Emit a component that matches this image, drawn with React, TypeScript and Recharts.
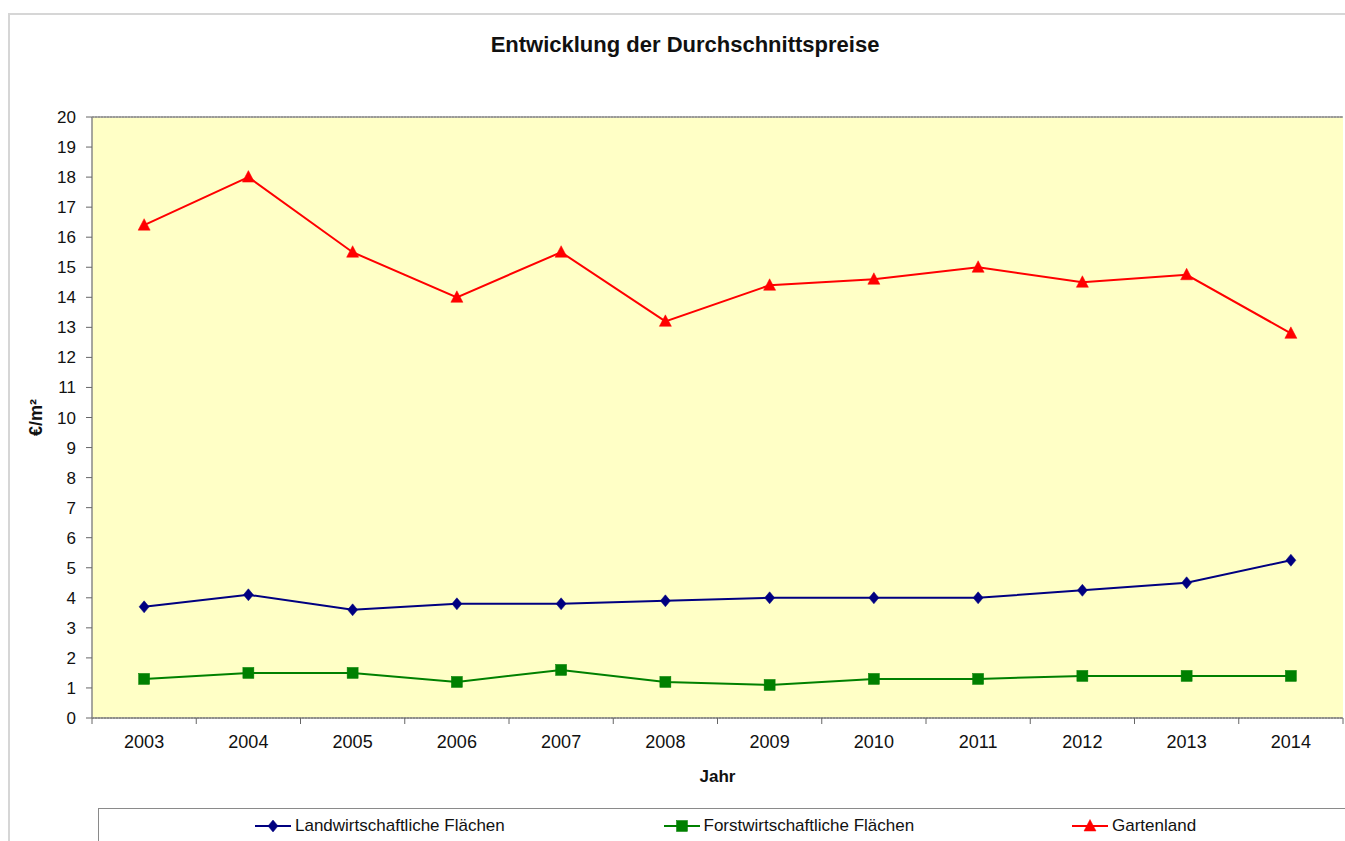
import React from 'react';
import { LineChart, Line, XAxis, YAxis, CartesianGrid, Legend, ReferenceLine } from 'recharts';

const years = [2003, 2004, 2005, 2006, 2007, 2008, 2009, 2010, 2011, 2012, 2013, 2014];
const landwirtschaft = [3.7, 4.1, 3.6, 3.8, 3.8, 3.9, 4.0, 4.0, 4.0, 4.25, 4.5, 5.25];
const forstwirtschaft = [1.3, 1.5, 1.5, 1.2, 1.6, 1.2, 1.1, 1.3, 1.3, 1.4, 1.4, 1.4];
const gartenland = [16.4, 18.0, 15.5, 14.0, 15.5, 13.2, 14.4, 14.6, 15.0, 14.5, 14.75, 12.8];
const yTicks = [0, 1, 2, 3, 4, 5, 6, 7, 8, 9, 10, 11, 12, 13, 14, 15, 16, 17, 18, 19, 20];

const seriesNames = ['Landwirtschaftliche Flächen', 'Forstwirtschaftliche Flächen', 'Gartenland'];
const seriesColors = ['#000080', '#008000', '#FF0000'];
const seriesShapes = ['diamond', 'square', 'triangle'];

const data = years.map((y, i) => ({
  year: y,
  landw: landwirtschaft[i],
  forst: forstwirtschaft[i],
  garten: gartenland[i],
}));

const boundaryTicks = [...years.map((y) => y - 0.5), years[years.length - 1] + 0.5];

const FONT = '"Liberation Sans", Arial, sans-serif';

function Marker({ shape, cx, cy, color }: { shape: string; cx: number; cy: number; color: string }) {
  if (cx == null || cy == null) return null;
  if (shape === 'diamond') {
    return <path d={`M${cx},${cy - 6} L${cx + 5},${cy} L${cx},${cy + 6} L${cx - 5},${cy} Z`} fill={color} stroke={color} strokeWidth={0.5} />;
  }
  if (shape === 'square') {
    return <rect x={cx - 5.5} y={cy - 5.5} width={11} height={11} fill={color} stroke={color} strokeWidth={0.5} />;
  }
  return <path d={`M${cx},${cy - 6.5} L${cx + 6},${cy + 5} L${cx - 6},${cy + 5} Z`} fill={color} stroke={color} strokeWidth={0.5} />;
}

const makeDot = (shape: string, color: string) => (props: any) => (
  <Marker key={`${shape}-${props.index}`} shape={shape} cx={props.cx} cy={props.cy} color={color} />
);

const EmptyTick = () => <g />;

const LegendContent = () => (
  <div style={{ position: 'relative', width: '100%', height: 40, fontFamily: FONT, fontSize: 17, color: '#111' }}>
    {seriesNames.map((name, i) => (
      <div
        key={name}
        style={{ position: 'absolute', left: 157 + i * 408.5, top: 8, display: 'flex', alignItems: 'center', whiteSpace: 'nowrap' }}
      >
        <svg width={36} height={16} style={{ marginRight: 4 }}>
          <line x1={0} y1={8} x2={36} y2={8} stroke={seriesColors[i]} strokeWidth={2} />
          <Marker shape={seriesShapes[i]} cx={18} cy={8} color={seriesColors[i]} />
        </svg>
        <span>{name}</span>
      </div>
    ))}
  </div>
);

const YLabel = (props: any) => {
  const vb = props.viewBox || {};
  const x = vb.x + 10;
  const y = vb.y + vb.height / 2;
  return (
    <text x={x} y={y} transform={`rotate(-90, ${x}, ${y})`} textAnchor="middle" dominantBaseline="central"
      fontFamily={FONT} fontSize={18} fontWeight="bold" fill="#111">
      €/m²
    </text>
  );
};

export default function App() {
  return (
    <div style={{ position: 'absolute', left: 0, top: 0, width: 1345, height: 841, background: '#fff', overflow: 'hidden' }}>
      <div style={{ position: 'absolute', left: 8, top: 13, width: 1400, height: 900, border: '2px solid #d6d6d6', boxSizing: 'border-box' }} />
      <div style={{ position: 'absolute', left: 98, top: 808, width: 1300, height: 100, border: '1.5px solid #8a8a8a', boxSizing: 'border-box' }} />
      <div style={{ position: 'absolute', left: 0, top: 32, width: 1370, textAlign: 'center', fontFamily: FONT, fontSize: 22, fontWeight: 'bold', color: '#111' }}>
        Entwicklung der Durchschnittspreise
      </div>
      <div style={{ position: 'absolute', left: 0, top: 0 }}>
        <LineChart width={1345} height={841} data={data} margin={{ top: 117, right: 2, bottom: 53, left: 26 }}>
          <CartesianGrid vertical={false} horizontal stroke="#444" strokeDasharray="2 1" fill="#FFFFC6" fillOpacity={1} />
          <XAxis
            xAxisId="b"
            type="number"
            dataKey="year"
            domain={[boundaryTicks[0], boundaryTicks[boundaryTicks.length - 1]]}
            ticks={years}
            interval={0}
            tickLine={false}
            axisLine={false}
            tickSize={6}
            tickMargin={10}
            tick={{ fontFamily: FONT, fontSize: 18, fill: '#111' }}
            height={69}
            allowDataOverflow
            label={{ value: 'Jahr', position: 'insideBottom', offset: 6, fontFamily: FONT, fontSize: 17, fontWeight: 'bold', fill: '#111' }}
          />
          <XAxis
            xAxisId="a"
            type="number"
            dataKey="year"
            domain={[boundaryTicks[0], boundaryTicks[boundaryTicks.length - 1]]}
            ticks={boundaryTicks}
            interval={0}
            tick={<EmptyTick />}
            tickSize={6}
            tickLine={{ stroke: '#666' }}
            axisLine={{ stroke: '#888', strokeWidth: 1.5 }}
            height={1}
            allowDataOverflow
          />
          <YAxis
            yAxisId="left"
            domain={[0, 20]}
            ticks={yTicks}
            interval={0}
            width={66}
            tickSize={6}
            tickMargin={10}
            tickLine={{ stroke: '#666' }}
            axisLine={{ stroke: '#888', strokeWidth: 1.5 }}
            tick={{ fontFamily: FONT, fontSize: 17, fill: '#111' }}
            label={<YLabel />}
          />
          <YAxis yAxisId="right" orientation="right" domain={[0, 20]} width={0} tick={false} tickLine={false} axisLine={{ stroke: '#aaa' }} />
          <ReferenceLine xAxisId="b" yAxisId="left" y={20} stroke="#999" strokeWidth={1.5} />
          <Legend verticalAlign="middle" align="center" layout="horizontal" content={<LegendContent />}
            wrapperStyle={{ position: 'absolute', left: 98, top: 808, width: 1247, height: 40 }} />
          <Line xAxisId="b" yAxisId="left" dataKey="landw" name={seriesNames[0]} stroke={seriesColors[0]} strokeWidth={2}
            dot={makeDot(seriesShapes[0], seriesColors[0])} activeDot={false} isAnimationActive={false} />
          <Line xAxisId="b" yAxisId="left" dataKey="forst" name={seriesNames[1]} stroke={seriesColors[1]} strokeWidth={2}
            dot={makeDot(seriesShapes[1], seriesColors[1])} activeDot={false} isAnimationActive={false} />
          <Line xAxisId="b" yAxisId="left" dataKey="garten" name={seriesNames[2]} stroke={seriesColors[2]} strokeWidth={2}
            dot={makeDot(seriesShapes[2], seriesColors[2])} activeDot={false} isAnimationActive={false} />
        </LineChart>
      </div>
    </div>
  );
}
